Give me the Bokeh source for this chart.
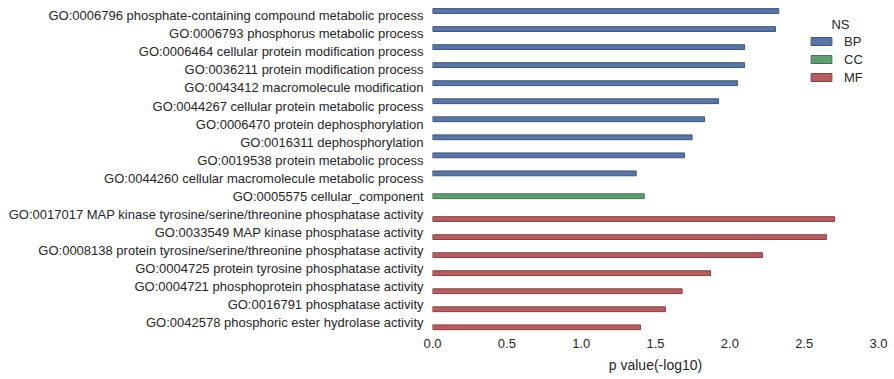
from bokeh.plotting import figure
from bokeh.models import ColumnDataSource, Range1d, FixedTicker, NumeralTickFormatter, Legend, LegendItem, Label
from bokeh.embed import file_html
from bokeh.resources import INLINE

terms = [
    "GO:0006796 phosphate-containing compound metabolic process",
    "GO:0006793 phosphorus metabolic process",
    "GO:0006464 cellular protein modification process",
    "GO:0036211 protein modification process",
    "GO:0043412 macromolecule modification",
    "GO:0044267 cellular protein metabolic process",
    "GO:0006470 protein dephosphorylation",
    "GO:0016311 dephosphorylation",
    "GO:0019538 protein metabolic process",
    "GO:0044260 cellular macromolecule metabolic process",
    "GO:0005575 cellular_component",
    "GO:0017017 MAP kinase tyrosine/serine/threonine phosphatase activity",
    "GO:0033549 MAP kinase phosphatase activity",
    "GO:0008138 protein tyrosine/serine/threonine phosphatase activity",
    "GO:0004725 protein tyrosine phosphatase activity",
    "GO:0004721 phosphoprotein phosphatase activity",
    "GO:0016791 phosphatase activity",
    "GO:0042578 phosphoric ester hydrolase activity",
]
ns = ["BP"] * 10 + ["CC"] + ["MF"] * 7
pvals = [2.329, 2.307, 2.099, 2.099, 2.052, 1.924, 1.830, 1.746, 1.695, 1.370,
         1.424,
         2.704, 2.650, 2.220, 1.870, 1.679, 1.567, 1.399]
ns_levels = ["BP", "CC", "MF"]
ns_colors = ["#5875A3", "#5F9E6E", "#B55D60"]
ns_edges = ["#3E5478", "#437352", "#844244"]
x_ticks = [0.0, 0.5, 1.0, 1.5, 2.0, 2.5, 3.0]
legend_title = "NS"

TXT = "#262626"
FONT = "Liberation Sans"

bw = 0.8 / len(ns_levels)
p = figure(width=894, height=379, output_backend="svg", toolbar_location=None,
           x_range=Range1d(0, 3.0), y_range=Range1d(17.5, -0.85),
           min_border_left=432, min_border_right=16, min_border_top=0, min_border_bottom=48)

renderers = []
for k, lev in enumerate(ns_levels):
    idx = [i for i, n in enumerate(ns) if n == lev]
    off = (k - 1) * bw
    src = ColumnDataSource(dict(y=[i + off for i in idx], right=[pvals[i] for i in idx]))
    r = p.hbar(y="y", left=0, right="right", height=bw, source=src,
               fill_color=ns_colors[k], line_color=ns_edges[k], line_width=1)
    renderers.append((lev, r))

p.yaxis.ticker = FixedTicker(ticks=list(range(len(terms))))
p.yaxis.major_label_overrides = {i: t for i, t in enumerate(terms)}
p.xaxis.ticker = FixedTicker(ticks=x_ticks)
p.xaxis.formatter = NumeralTickFormatter(format="0.0")
p.xaxis.axis_label = "p value(-log10)"

for ax in (p.xaxis[0], p.yaxis[0]):
    ax.axis_line_color = None
    ax.major_tick_line_color = None
    ax.minor_tick_line_color = None
    ax.major_tick_out = 0
    ax.major_tick_in = 0
    ax.minor_tick_out = 0
    ax.minor_tick_in = 0
    ax.major_label_text_font = FONT
    ax.major_label_text_font_size = "13px"
    ax.major_label_text_color = TXT
p.yaxis.major_label_standoff = 9
p.xaxis.major_label_standoff = 7
p.xaxis.axis_label_text_font = FONT
p.xaxis.axis_label_text_font_size = "14px"
p.xaxis.axis_label_text_font_style = "normal"
p.xaxis.axis_label_text_color = TXT
p.xaxis.axis_label_standoff = 6

p.xgrid.visible = False
p.ygrid.visible = False
p.outline_line_color = None

legend = Legend(items=[LegendItem(label=lev, renderers=[r]) for lev, r in renderers],
                location=(376, 245))
legend.border_line_color = None
legend.background_fill_alpha = 0
legend.label_text_font = FONT
legend.label_text_font_size = "13px"
legend.label_text_color = TXT
legend.glyph_width = 26
legend.glyph_height = 10
legend.label_height = 18
legend.label_standoff = 10
legend.spacing = 0
legend.padding = 0
legend.margin = 0
p.add_layout(legend)

p.add_layout(Label(x=2.744, y=0.48, text=legend_title, text_align="center",
                   text_baseline="middle", text_font=FONT, text_font_size="13px",
                   text_color=TXT))

open("out.html", "w").write(file_html(p, INLINE))
